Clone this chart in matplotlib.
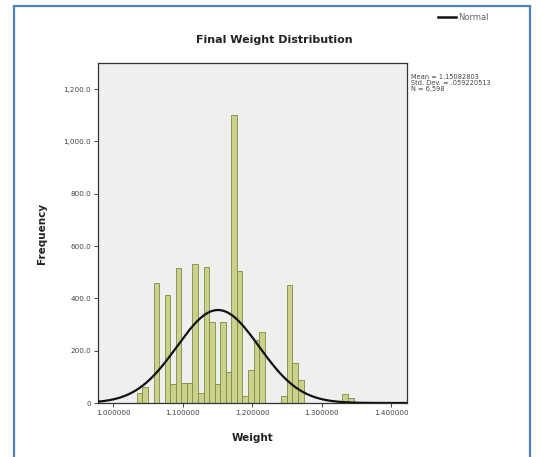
import numpy as np
import matplotlib
matplotlib.use("Agg")
import matplotlib.pyplot as plt
from matplotlib.patches import Rectangle

# histogram bins (width 0.008) starting at the first edge, counts
bin_start = 1.034
bin_width = 0.008
counts = [38, 60, 0, 459, 0, 413, 72, 516, 78, 75, 531, 38, 521, 308, 74, 308, 120,
          1101, 504, 25, 126, 242, 273, 0, 0, 0, 25, 450, 152, 88,
          0, 0, 0, 0, 0, 0, 0, 35, 20]

mean = 1.15082803
std_dev = 0.059220513
n_obs = 6598

x_ticks = [1.0, 1.1, 1.2, 1.3, 1.4]
x_labels = ["1.000000", "1.100000", "1.200000", "1.300000", "1.400000"]
y_ticks = [0, 200, 400, 600, 800, 1000, 1200]
y_labels = ["0", "200.0", "400.0", "600.0", "800.0", "1,000.0", "1,200.0"]

fig = plt.figure(figsize=(5.41, 4.57), dpi=100)
fig.patch.set_facecolor("white")

# blue frame around the whole picture
fig.patches.append(Rectangle((14 / 541, -0.05), 516 / 541, 1.05 - 6 / 457,
                             transform=fig.transFigure, fill=False,
                             edgecolor="#4f81bd", linewidth=1.6))

ax = fig.add_axes([98 / 541, 1 - 403 / 457, 309 / 541, 340 / 457])
ax.set_facecolor("#efefed")

edges = bin_start + bin_width * np.arange(len(counts))
ax.bar(edges, counts, width=bin_width, align="edge", color="#cbd08a",
       edgecolor="#7d8a48", linewidth=0.6, zorder=2)

xs = np.linspace(0.978, 1.423, 400)
curve = n_obs * bin_width * np.exp(-0.5 * ((xs - mean) / std_dev) ** 2) / (std_dev * np.sqrt(2 * np.pi))
ax.plot(xs, curve, color="#111111", linewidth=1.6, zorder=3)

ax.set_xlim(0.978, 1.423)
ax.set_ylim(0, 1300)
ax.set_xticks(x_ticks)
ax.set_xticklabels(x_labels, fontsize=5.2, color="#444444")
ax.set_yticks(y_ticks)
ax.set_yticklabels(y_labels, fontsize=5.2, color="#444444")
ax.tick_params(axis="both", length=3, width=0.7, color="#444444", pad=2)
for sp in ax.spines.values():
    sp.set_color("#333333")
    sp.set_linewidth(0.9)

ax.set_xlabel("Weight", fontsize=7.5, fontweight="bold", color="#222222", labelpad=12)
ax.set_ylabel("Frequency", fontsize=7.5, fontweight="bold", color="#222222", labelpad=12)

fig.text(274 / 541, 1 - 40 / 457, "Final Weight Distribution", fontsize=8,
         fontweight="bold", color="#222222", ha="center", va="center")

# legend entry and summary stats to the right
fig.add_artist(plt.Line2D([438 / 541, 456 / 541], [1 - 17 / 457, 1 - 17 / 457],
                          color="#111111", linewidth=1.8, transform=fig.transFigure))
fig.text(458 / 541, 1 - 17 / 457, "Normal", fontsize=6, color="#666666",
         ha="left", va="center")
fig.text(411 / 541, 1 - 74 / 457,
         "Mean = 1.15082803\nStd. Dev. = .059220513\nN = 6,598",
         fontsize=4.8, color="#444444", ha="left", va="top", linespacing=1.05)

fig.savefig("out.png", dpi=100)
